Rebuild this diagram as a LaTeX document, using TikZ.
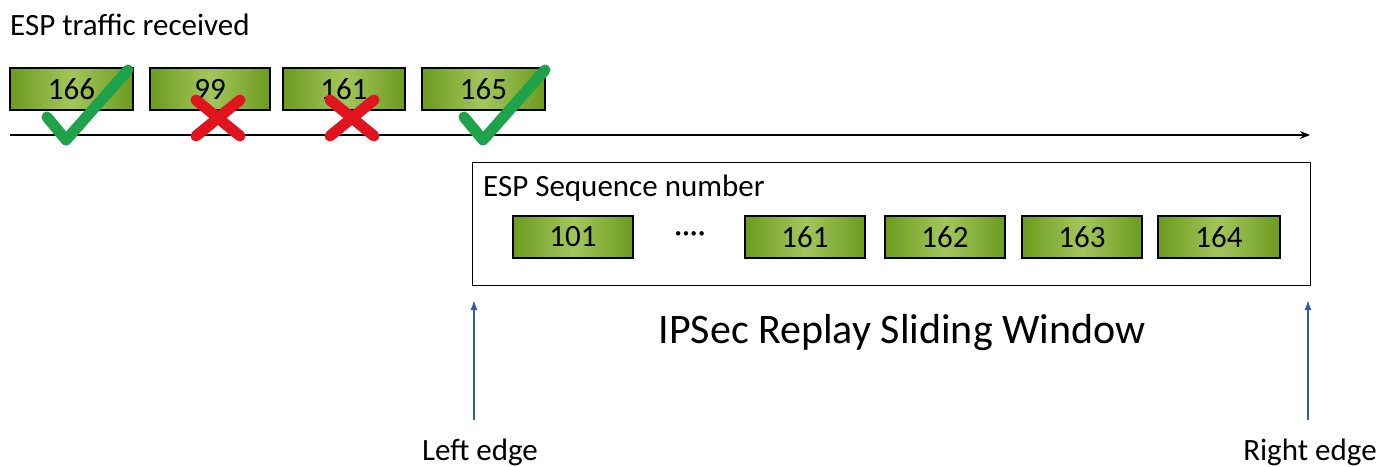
\documentclass[tikz,border=0pt]{standalone}
\usepackage{fontspec}
\setmainfont{Carlito}
\usetikzlibrary{arrows.meta}
\definecolor{gdark}{HTML}{6B9B1E}
\definecolor{glight}{HTML}{A3C65C}
\definecolor{okgreen}{HTML}{1FA34A}
\definecolor{badred}{HTML}{E0141E}
\definecolor{edgeblue}{HTML}{2F5FA8}
\tikzset{
  pkt/.style={draw=black, line width=1.2pt, minimum width=120pt, minimum height=42pt,
    left color=gdark, right color=gdark, middle color=glight, inner sep=0pt,
    font=\fontsize{31}{31}\selectfont},
  lbl/.style={font=\fontsize{31}{34}\selectfont, inner sep=0pt},
  tick/.style={okgreen, line width=11pt, line cap=round, line join=round},
  cross/.style={badred, line width=11pt, line cap=round},
  edgearrow/.style={edgeblue, line width=1.5pt, -{Latex[length=10pt,width=7pt]}}
}
\begin{document}
\begin{tikzpicture}[x=1pt,y=-1pt]
\useasboundingbox (0,0) rectangle (1384,466);
\fill[white] (0,0) rectangle (1384,466);
% title
\node[lbl, anchor=west] (title) at (10,25) {ESP traffic received};
% received packets
\node[pkt, minimum width=123pt] (r1) at (71.5,89) {166};
\node[pkt] (r2) at (210,89) {99};
\node[pkt, minimum width=122pt] (r3) at (344,89) {161};
\node[pkt, minimum width=123pt] (r4) at (483.5,89) {165};
% time line
\coordinate (ls) at (10,135);
\coordinate (le) at (1310,135);
\draw[line width=1.2pt, -{Stealth[length=10pt,width=8pt]}] (ls) -- (le);
% marks
\draw[tick] (47,117) -- (66,140) -- (128,70);
\draw[tick] (464,117) -- (483,140) -- (545,70);
\draw[cross] (196,100) -- (240,136);
\draw[cross] (240,100) -- (196,136);
\draw[cross] (330,100) -- (374,136);
\draw[cross] (374,100) -- (330,136);
% window
\node[draw=black, line width=1.2pt, minimum width=838pt, minimum height=123pt, anchor=north west, inner sep=0pt] (win) at (472,162) {};
\node[lbl, anchor=west] (seq) at (483,188) {ESP Sequence number};
\node[pkt] (w1) at (573,237) {101};
\node[lbl] (dots) at (690,237) {····};
\node[pkt] (w2) at (805,237) {161};
\node[pkt] (w3) at (945,237) {162};
\node[pkt] (w4) at (1082,237) {163};
\node[pkt, minimum width=122pt] (w5) at (1219,237) {164};
% caption
\node[font=\fontsize{42}{44}\selectfont, inner sep=0pt] (cap) at (902,333) {IPSec Replay Sliding Window};
% edges
\node[lbl] (le1) at (480,452) {Left edge};
\node[lbl] (re1) at (1310,452) {Right edge};
\coordinate (la) at (474,420);
\coordinate (lt) at (474,300);
\coordinate (ra) at (1308,420);
\coordinate (rt) at (1308,300);
\draw[edgearrow] (la) -- (lt);
\draw[edgearrow] (ra) -- (rt);
\end{tikzpicture}
\end{document}
